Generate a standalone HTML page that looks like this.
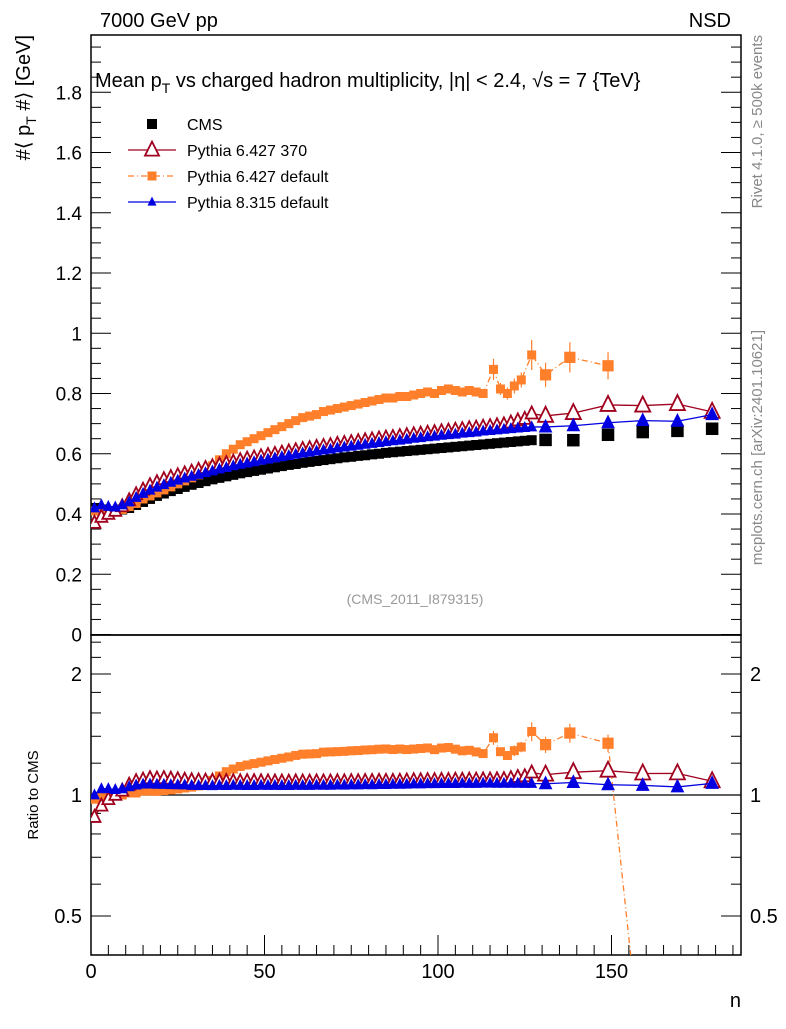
<!DOCTYPE html>
<html><head><meta charset="utf-8"><style>
body{margin:0;background:#fff;}
svg text{font-family:"Liberation Sans",sans-serif;}
</style></head><body>
<svg id="c" width="786" height="1024" viewBox="0 0 786 1024" xmlns="http://www.w3.org/2000/svg">
<text x="100" y="27" font-size="20">7000 GeV pp</text>
<text x="731" y="27" font-size="20" text-anchor="end">NSD</text>
<rect x="91" y="35" width="650" height="600" fill="none" stroke="#000" stroke-width="1.5"/>
<rect x="91" y="635" width="650" height="320" fill="none" stroke="#000" stroke-width="1.5"/>
<text x="95" y="87" font-size="20">Mean p<tspan font-size="14" dy="6">T</tspan><tspan dy="-6"> vs charged hadron multiplicity, |η| &lt; 2.4, √s = 7 {TeV}</tspan></text>
<text transform="translate(30,35) rotate(-90)" font-size="20" text-anchor="end">#⟨ p<tspan font-size="14" dy="6">T</tspan><tspan dy="-6"> #⟩ [GeV]</tspan></text>
<text transform="translate(38,795) rotate(-90)" font-size="15" text-anchor="middle">Ratio to CMS</text>
<text x="741" y="1007" font-size="20" text-anchor="end">n</text>
<text x="415" y="604" font-size="14" fill="#999" text-anchor="middle">(CMS_2011_I879315)</text>
<text transform="translate(762,35) rotate(-90)" font-size="15" fill="#888" text-anchor="end">Rivet 4.1.0, ≥ 500k events</text>
<text transform="translate(762,330) rotate(-90)" font-size="15" fill="#888" text-anchor="end">mcplots.cern.ch [arXiv:2401.10621]</text>
<g id="axes"></g>
<defs>
<clipPath id="cm"><rect x="91" y="35" width="650" height="600"/></clipPath>
<clipPath id="cr"><rect x="91" y="635" width="650" height="320"/></clipPath>
</defs>
<g id="mainG" clip-path="url(#cm)"></g>
<g id="ratioG" clip-path="url(#cr)"></g>
<g id="legend"></g>
</svg>
<script>
const nDense = [1,3,5,7,9,11,13,15,17,19,21,23,25,27,29,31,33,35,37,39,41,43,45,47,49,51,53,55,57,59,61,63,65,67,69,71,73,75,77,79,81,83,85,87,89,91,93,95,97,99,101,103,105,107,109,111,113,115,117,119,121,123,125,127];
const nSparse = [131,139,149,159,169,179];
const cmsDense = [0.42,0.415,0.41,0.41,0.415,0.42,0.43,0.44,0.45,0.46,0.468,0.476,0.483,0.49,0.497,0.503,0.509,0.515,0.52,0.525,0.53,0.535,0.539,0.543,0.547,0.551,0.555,0.559,0.563,0.566,0.57,0.573,0.576,0.579,0.582,0.585,0.588,0.59,0.593,0.595,0.598,0.6,0.603,0.605,0.607,0.609,0.611,0.613,0.615,0.617,0.619,0.621,0.623,0.625,0.627,0.629,0.631,0.633,0.635,0.637,0.639,0.641,0.643,0.645];
const cmsSparse = [0.646,0.645,0.663,0.672,0.676,0.683];
const p6370Dense = [0.37,0.39,0.40,0.41,0.425,0.445,0.465,0.48,0.495,0.505,0.515,0.522,0.528,0.534,0.54,0.546,0.552,0.558,0.563,0.568,0.573,0.578,0.583,0.587,0.591,0.595,0.599,0.603,0.607,0.611,0.615,0.618,0.622,0.625,0.628,0.632,0.635,0.638,0.641,0.644,0.647,0.65,0.653,0.655,0.658,0.661,0.664,0.666,0.669,0.671,0.674,0.676,0.679,0.681,0.684,0.686,0.689,0.691,0.694,0.697,0.703,0.71,0.715,0.733];
const p6370Sparse = [0.726,0.735,0.762,0.76,0.765,0.739];
const p8Dense = [0.42,0.43,0.425,0.423,0.43,0.44,0.455,0.468,0.479,0.489,0.497,0.505,0.512,0.519,0.525,0.531,0.537,0.543,0.549,0.554,0.56,0.565,0.569,0.573,0.578,0.582,0.586,0.59,0.594,0.598,0.602,0.605,0.609,0.612,0.615,0.619,0.622,0.625,0.628,0.631,0.634,0.637,0.64,0.643,0.645,0.648,0.651,0.653,0.656,0.658,0.661,0.663,0.665,0.668,0.67,0.672,0.675,0.677,0.679,0.681,0.683,0.685,0.687,0.689];
const p8Sparse = [0.689,0.693,0.703,0.71,0.708,0.73];
const p6defN = [1,3,5,7,9,11,13,15,17,19,21,23,25,27,29,31,33,35,37,39,41,43,45,47,49,51,53,55,57,59,61,63,65,67,69,71,73,75,77,79,81,83,85,87,89,91,93,95,97,99,101,103,105,107,109,111,113,116,118,120,122,124,127,131,138,149];
const p6defVals = [0.41,0.41,0.41,0.41,0.415,0.425,0.435,0.45,0.46,0.47,0.48,0.49,0.5,0.51,0.52,0.53,0.545,0.56,0.58,0.6,0.615,0.63,0.64,0.65,0.66,0.67,0.68,0.69,0.7,0.71,0.72,0.725,0.73,0.74,0.745,0.75,0.755,0.76,0.765,0.77,0.775,0.78,0.785,0.785,0.79,0.79,0.795,0.8,0.805,0.8,0.81,0.815,0.81,0.805,0.81,0.805,0.8,0.88,0.815,0.80,0.825,0.845,0.928,0.862,0.92,0.892];
const p6defErr = [0.01,0.01,0.01,0.01,0.01,0.01,0.01,0.01,0.01,0.01,0.01,0.01,0.01,0.01,0.01,0.01,0.01,0.01,0.01,0.01,0.01,0.01,0.01,0.01,0.01,0.01,0.01,0.01,0.01,0.01,0.01,0.01,0.01,0.01,0.01,0.01,0.01,0.01,0.01,0.01,0.01,0.01,0.01,0.01,0.01,0.01,0.01,0.01,0.012,0.012,0.012,0.015,0.015,0.015,0.015,0.015,0.015,0.035,0.02,0.02,0.025,0.025,0.05,0.04,0.05,0.045];
const p6defRatioTailN = [159];
const p6defRatioTail = [0.21];
const yTicks = [0,0.2,0.4,0.6,0.8,1,1.2,1.4,1.6,1.8];
const yTickLabels = ["0","0.2","0.4","0.6","0.8","1","1.2","1.4","1.6","1.8"];
const xTicks = [0,50,100,150];
const rTicks = [0.5,1,2];
const rTickLabels = ["0.5","1","2"];

const X = n => 91 + n*3.47;
const Y = v => 634.5 - v*301.25;
const R = r => 795 - Math.log2(r)*121;
const NS = "http://www.w3.org/2000/svg";
function mk(tag, attrs, parent){const e=document.createElementNS(NS,tag);for(const k in attrs)e.setAttribute(k,attrs[k]);parent.appendChild(e);return e;}
const axes=document.getElementById('axes');
for(let v=0; v<=1.96; v+=0.05){
  const major = Math.abs(v/0.2-Math.round(v/0.2))<1e-6;
  const y=Y(v), L=major?20:10;
  const t1=mk('line',{x1:91,x2:91+L,y1:y,y2:y,stroke:'#000','stroke-width':1},axes);
  
  
  const t2=mk('line',{x1:741-L,x2:741,y1:y,y2:y,stroke:'#000','stroke-width':1},axes);
  
  
}
yTicks.forEach((v,i)=>{
  const t=mk('text',{x:82,y:Y(v)+7,'font-size':19,'text-anchor':'end'},axes);
  t.textContent=yTickLabels[i];
  
  
});
for(let n=0;n<=187;n+=5){
  const major=n%50===0; const L=major?20:10;
  const t=mk('line',{x1:X(n),x2:X(n),y1:955,y2:955-L,stroke:'#000','stroke-width':1},axes);
  
  
}
xTicks.forEach(n=>{
  const t=mk('text',{x:X(n),y:978,'font-size':20,'text-anchor':'middle'},axes);
  t.textContent=String(n);
  
  
});
[0.4,0.5,0.6,0.7,0.8,0.9,1,1.2,1.4,1.6,1.8,2,2.2,2.4].forEach(r=>{
  const major=(r===0.5||r===1||r===2); const L=major?20:10; const y=R(r);
  const a=mk('line',{x1:91,x2:91+L,y1:y,y2:y,stroke:'#000','stroke-width':1},axes);
  
  
  const b=mk('line',{x1:741-L,x2:741,y1:y,y2:y,stroke:'#000','stroke-width':1},axes);
  
  
});
rTicks.forEach((r,i)=>{
  const a=mk('text',{x:82,y:R(r)+7,'font-size':20,'text-anchor':'end'},axes);
  a.textContent=rTickLabels[i];
  
  
  const b=mk('text',{x:750,y:R(r)+7,'font-size':20},axes);
  b.textContent=rTickLabels[i];
  
  
});
const one=mk('line',{x1:91,x2:741,y1:R(1),y2:R(1),stroke:'#000','stroke-width':1.2},axes);



const mainG=document.getElementById('mainG'), ratioG=document.getElementById('ratioG');
const cmsN=nDense.concat(nSparse), cmsV=cmsDense.concat(cmsSparse);
function cmsAt(n){for(let i=0;i<cmsN.length-1;i++){if(n>=cmsN[i]&&n<=cmsN[i+1]){const f=(n-cmsN[i])/(cmsN[i+1]-cmsN[i]);return cmsV[i]+f*(cmsV[i+1]-cmsV[i]);}}return cmsV[cmsV.length-1];}

function marker(g,type,x,y,color,s,name){
  let e;
  if(type==='sq') e=mk('rect',{x:x-s/2,y:y-s/2,width:s,height:s,fill:color},g);
  else if(type==='tri') e=mk('polygon',{points:`${x},${y-s*0.6} ${x-s/2},${y+s*0.4} ${x+s/2},${y+s*0.4}`,fill:color},g);
  else e=mk('polygon',{points:`${x},${y-s*0.6} ${x-s/2},${y+s*0.4} ${x+s/2},${y+s*0.4}`,fill:'#fff',stroke:color,'stroke-width':1.8},g);
  
  
}
function series(ns,vs,errs,color,type,size,dash,name,drawLine){
  const pts=ns.map((n,i)=>[X(n),Y(vs[i])]);
  const rpts=ns.map((n,i)=>[X(n),R(vs[i]/cmsAt(n))]);
  if(drawLine){
    [[mainG,pts],[ratioG,rpts]].forEach(([g,p])=>{
      const l=mk('polyline',{points:p.map(q=>q.join(',')).join(' '),fill:'none',stroke:color,'stroke-width':1.3,'stroke-dasharray':dash||'none'},g);
      
      
    });
  }
  ns.forEach((n,i)=>{
    if(errs){const e=errs[i];
      const a=mk('line',{x1:X(n),x2:X(n),y1:Y(vs[i]-e),y2:Y(vs[i]+e),stroke:color,'stroke-width':1.2},mainG);
      
      
      const c=cmsAt(n);
      const b=mk('line',{x1:X(n),x2:X(n),y1:R((vs[i]-e)/c),y2:R((vs[i]+e)/c),stroke:color,'stroke-width':1.2},ratioG);
      
      
    }
    const s = (n>128)? size*1.25 : size;
    marker(mainG,type,pts[i][0],pts[i][1],color,s,name+'-point');
    if(name!=='cms') marker(ratioG,type,rpts[i][0],rpts[i][1],color,s,name+'-ratio-point');
  });
  return rpts;
}
series(cmsN,cmsV,null,'#000','sq',10,null,'cms',false);
const orp=series(p6defN,p6defVals,p6defErr,'#ff7f2a','sq',9,'6,3,1,3','pythia6-default',true);
const tl=mk('polyline',{points:orp[orp.length-1].join(',')+' '+X(p6defRatioTailN[0])+','+R(p6defRatioTail[0]),fill:'none',stroke:'#ff7f2a','stroke-width':1.3,'stroke-dasharray':'6,3,1,3'},ratioG);


series(nDense.concat(nSparse),p6370Dense.concat(p6370Sparse),null,'#a0001e','otri',12,null,'pythia6-370',true);
series(nDense.concat(nSparse),p8Dense.concat(p8Sparse),null,'#0000e0','tri',11,null,'pythia8-default',true);

const lg=document.getElementById('legend');
const items=[['CMS','#000','sq',null,false],['Pythia 6.427 370','#a0001e','otri',null,true],['Pythia 6.427 default','#ff7f2a','sq','6,3,1,3',true],['Pythia 8.315 default','#0000e0','tri',null,true]];
items.forEach((it,i)=>{
  const y=124+i*26;
  if(it[4]){const l=mk('line',{x1:128,x2:176,y1:y,y2:y,stroke:it[1],'stroke-width':1.3,'stroke-dasharray':it[3]||'none'},lg);
    
    }
  marker(lg,it[2],152,y,it[1],it[2]==='otri'?14:(it[0]==='CMS'?10:9),'legend-marker');
  const t=mk('text',{x:187,y:y+6,'font-size':16},lg);
  t.textContent=it[0];
  
  
});
</script>
</body></html>
